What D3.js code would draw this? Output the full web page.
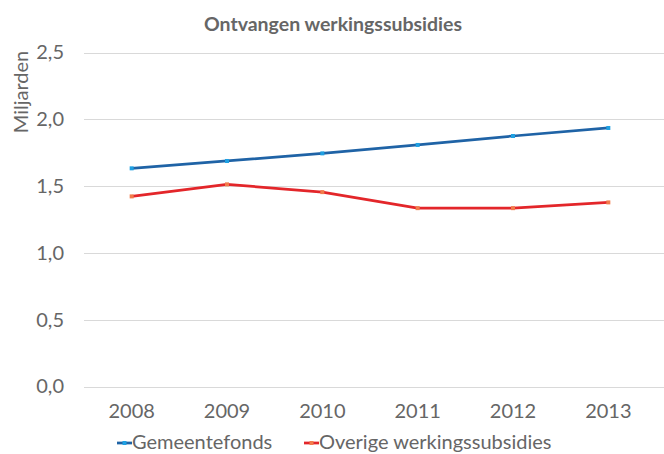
<!DOCTYPE html>
<html><head><meta charset="utf-8">
<script src="https://cdn.jsdelivr.net/npm/d3@7"></script>
<style>body{margin:0;background:#fff}svg{display:block}</style>
</head><body>
<svg id="c" width="664" height="454"></svg>
<script>
const years = ["2008","2009","2010","2011","2012","2013"];
const gemeentefonds = [1.633, 1.688, 1.745, 1.808, 1.875, 1.935];
const overige = [1.423, 1.513, 1.455, 1.335, 1.335, 1.378];
const yTicks = [0, 0.5, 1.0, 1.5, 2.0, 2.5];
const seriesNames = ["Gemeentefonds", "Overige werkingssubsidies"];

const svg = d3.select("#c");
const font = "Lato, 'Open Sans', sans-serif";
const grey = "#666666";
const x = d3.scaleBand().domain(years).range([84, 656]);
const y = d3.scaleLinear().domain([0, 2.5]).range([386.5, 52.5]);
const fmt = v => d3.format(".1f")(v).replace(".", ",");

// gridlines
svg.append("g").selectAll("line").data(yTicks).join("line")
  .attr("x1", 84).attr("x2", 664)
  .attr("y1", d => Math.round(y(d)) + 0.5).attr("y2", d => Math.round(y(d)) + 0.5)
  .attr("stroke", "#d9d9d9").attr("stroke-width", 1);

// y axis labels
const ya = svg.append("g").attr("transform", "translate(64,0)")
  .call(d3.axisLeft(y).tickValues(yTicks).tickFormat(fmt).tickSize(0).tickPadding(0));
ya.select(".domain").remove();
ya.selectAll("text").attr("font-family", font).attr("font-size", 20).attr("fill", grey);

// x axis labels
const xa = svg.append("g").attr("transform", "translate(0,404)")
  .call(d3.axisBottom(x).tickSize(0).tickPadding(0));
xa.select(".domain").remove();
xa.selectAll("text").attr("font-family", font).attr("font-size", 20).attr("fill", grey);

// title
svg.append("text").attr("x", 333).attr("y", 31).attr("text-anchor", "middle")
  .attr("font-family", font).attr("font-size", 19.5).attr("font-weight", "bold")
  .attr("fill", grey).text("Ontvangen werkingssubsidies");

// y title
svg.append("text").attr("transform", "translate(28,92) rotate(-90)")
  .attr("text-anchor", "middle").attr("font-family", font).attr("font-size", 20)
  .attr("fill", grey).text("Miljarden");

const series = [
  {name: seriesNames[0], values: gemeentefonds, line: "#1f63a6", marker: "#1fa0e2"},
  {name: seriesNames[1], values: overige, line: "#e3262a", marker: "#f27c4c"}
];
const line = d3.line().x((d, i) => x(years[i]) + x.bandwidth() / 2).y(d => y(d));
series.forEach(s => {
  svg.append("path").attr("d", line(s.values)).attr("fill", "none")
    .attr("stroke", s.line).attr("stroke-width", 2.75).attr("stroke-linejoin", "round");
  svg.append("g").selectAll("rect").data(s.values).join("rect")
    .attr("x", (d, i) => x(years[i]) + x.bandwidth() / 2 - 2)
    .attr("y", d => y(d) - 2).attr("width", 4).attr("height", 4)
    .attr("fill", s.marker);
});

// legend
const legX = [117, 304];
series.forEach((s, i) => {
  const g = svg.append("g").attr("transform", `translate(${legX[i]},449)`);
  g.append("line").attr("x1", 0).attr("x2", 15).attr("y1", -6).attr("y2", -6)
    .attr("stroke", s.line).attr("stroke-width", 2.75);
  g.append("rect").attr("x", 5.5).attr("y", -8).attr("width", 4).attr("height", 4).attr("fill", s.marker);
  g.append("text").attr("x", 15).attr("y", 0).attr("font-family", font).attr("font-size", 20)
    .attr("fill", grey).text(s.name);
});
</script>
</body></html>
